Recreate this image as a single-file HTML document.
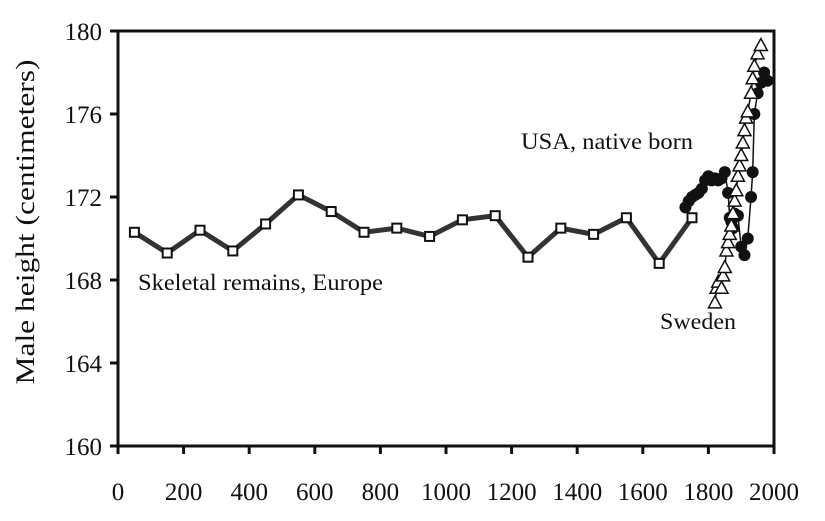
<!DOCTYPE html>
<html><head><meta charset="utf-8"><style>
body{margin:0;background:#fff;}
svg text{font-family:"Liberation Serif",serif;fill:#111;}
</style></head><body>
<svg id="chart" width="825" height="516" xmlns="http://www.w3.org/2000/svg">
</svg>
<script>
const xTicks=[0,200,400,600,800,1000,1200,1400,1600,1800,2000];
const yTicks=[160,164,168,172,176,180];
const euYears=[50,150,250,350,450,550,650,750,850,950,1050,1150,1250,1350,1450,1550,1650,1750];
const euHeights=[170.3,169.3,170.4,169.4,170.7,172.1,171.3,170.3,170.5,170.1,170.9,171.1,169.1,170.5,170.2,171.0,168.8,171.0];
const usYears=[1730,1740,1750,1760,1770,1780,1790,1800,1810,1820,1830,1840,1850,1860,1865,1870,1875,1880,1890,1900,1910,1920,1930,1935,1940,1950,1960,1970,1980];
const usHeights=[171.5,171.8,172.0,172.1,172.2,172.4,172.8,173.0,172.8,172.9,172.8,172.9,173.2,172.2,171.0,170.8,170.5,171.2,171.1,169.6,169.2,170.0,172.0,173.2,176.0,177.0,177.5,178.0,177.6];
const swYears=[1820,1825,1830,1840,1845,1850,1855,1860,1865,1870,1875,1880,1885,1890,1895,1900,1905,1910,1915,1920,1930,1935,1940,1950,1960];
const swHeights=[166.9,167.6,167.9,167.6,168.2,168.6,169.4,169.8,170.2,170.6,171.2,171.8,172.3,173.0,173.5,174.0,174.6,175.2,175.8,176.1,177.0,177.7,178.3,178.9,179.3];
const X0=118,X1=774,Y0=446,Y1=31;
const xs=v=>X0+(v-0)/2000*(X1-X0);
const ys=v=>Y0-(v-160)/20*(Y0-Y1);
const svg=document.getElementById('chart');
const NS='http://www.w3.org/2000/svg';
function mk(t,a,p){const e=document.createElementNS(NS,t);for(const k in a)e.setAttribute(k,a[k]);(p||svg).appendChild(e);return e;}
const frame=mk('rect',{x:X0,y:Y1,width:X1-X0,height:Y0-Y1,fill:'none',stroke:'#111','stroke-width':3});


xTicks.forEach(t=>{
 const l=mk('line',{x1:xs(t),x2:xs(t),y1:Y0,y2:Y0+8,stroke:'#111','stroke-width':3});
 
 
 const tx=mk('text',{x:xs(t),y:500,'text-anchor':'middle','font-size':25});
 tx.textContent=t;
 
 
});
yTicks.forEach(t=>{
 const l=mk('line',{x1:X0-8,x2:X0,y1:ys(t),y2:ys(t),stroke:'#111','stroke-width':3});
 
 
 const tx=mk('text',{x:X0-16,y:ys(t)+9,'text-anchor':'end','font-size':25});
 tx.textContent=t;
 
 
});
const yt=mk('text',{x:0,y:0,'text-anchor':'middle','font-size':26,textLength:325,lengthAdjust:'spacingAndGlyphs',transform:'translate(34,222) rotate(-90)'});
yt.textContent='Male height (centimeters)';


function pts(xa,ya){return xa.map((x,i)=>xs(x)+','+ys(ya[i])).join(' ');}
const eu=mk('polyline',{points:pts(euYears,euHeights),fill:'none',stroke:'#333','stroke-width':5});


euYears.forEach((x,i)=>{
 const r=mk('rect',{x:xs(x)-4.5,y:ys(euHeights[i])-4.5,width:9,height:9,fill:'#fff',stroke:'#111','stroke-width':2});
 
 
});
const sw=mk('polyline',{points:pts(swYears,swHeights),fill:'none',stroke:'#111','stroke-width':1.5});


const us=mk('polyline',{points:pts(usYears,usHeights),fill:'none',stroke:'#111','stroke-width':1.5});


usYears.forEach((x,i)=>{
 const c=mk('circle',{cx:xs(x),cy:ys(usHeights[i]),r:6,fill:'#111'});
 
 
});
swYears.forEach((x,i)=>{
 const cx=xs(x),cy=ys(swHeights[i]);
 const p=mk('polygon',{points:`${cx},${cy-7} ${cx-6.5},${cy+5} ${cx+6.5},${cy+5}`,fill:'#fff',stroke:'#111','stroke-width':1.5});
 
 
});
[['Skeletal remains, Europe',138,290,245,'europe-label'],['USA, native born',521,149,172,'usa-label'],['Sweden',660,329,76,'sweden-label']].forEach(a=>{
 const t=mk('text',{x:a[1],y:a[2],'font-size':23,textLength:a[3],lengthAdjust:'spacingAndGlyphs'});
 t.textContent=a[0];
 
 
});
</script>
</body></html>
